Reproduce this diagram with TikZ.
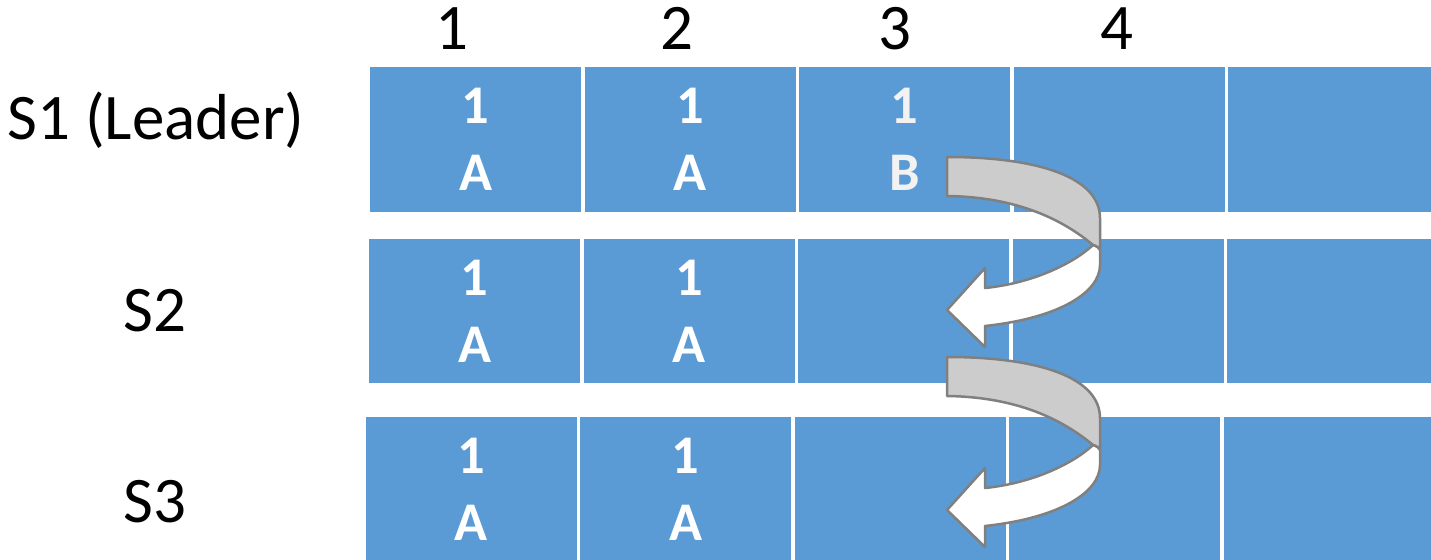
\documentclass[tikz,border=0pt]{standalone}
\usepackage{fontspec}
\setmainfont{Carlito}
\usepackage{tikz}
\usepackage{xcolor}

\definecolor{cellblue}{HTML}{5B9BD5}
\definecolor{backgrey}{HTML}{CCCCCC}
\definecolor{rimgrey}{HTML}{808080}
\definecolor{softwhite}{HTML}{F2F2F2}

\tikzset{
  cell/.style={rectangle, fill=cellblue, draw=white, line width=0.06cm,
    minimum width=4.29cm, minimum height=2.96cm, inner sep=0pt, outer sep=0pt,
    text=white, align=center, font=\fontsize{31}{38.1}\selectfont\bfseries},
  rowlabel/.style={anchor=base, font=\fontsize{37}{44}\selectfont},
  collabel/.style={anchor=base, font=\fontsize{37}{44}\selectfont},
  turnback/.style={fill=backgrey, draw=rimgrey, line width=0.05cm, line join=round},
  turnfront/.style={fill=white, draw=rimgrey, line width=0.05cm, line join=round}
}

\begin{document}
\begin{tikzpicture}[x=0.02cm, y=-0.02cm]
  \useasboundingbox (0,0) rectangle (1431,560);
  \clip (0,0) rectangle (1431,560);
  % column numbers
  \foreach \c/\x in {1/452, 2/677, 3/895, 4/1117}
    \node[collabel] (col\c) at (\x,50) {\c};
  % server names
  \node[rowlabel] (s1) at (156,140) {S1 (Leader)};
  \node[rowlabel] (s2) at (155,332) {S2};
  \node[rowlabel] (s3) at (155,523) {S3};
  % log cells
  \foreach \c/\txt in {1/{1\\A}, 2/{1\\A}, 3/{}, 4/{}, 5/{}}
    \node[cell] (a\c) at (368.5+214.5*\c-107.25,139.5) {\txt};
  \node[cell, text=softwhite] at (a3) {1\\B};
  \foreach \c/\txt in {1/{1\\A}, 2/{1\\A}, 3/{}, 4/{}, 5/{}}
    \node[cell] (b\c) at (367.5+214.5*\c-107.25,311) {\txt};
  \foreach \c/\txt in {1/{1\\A}, 2/{1\\A}, 3/{}, 4/{}, 5/{}}
    \node[cell] (d\c) at (364+214.5*\c-107.25,489) {\txt};
  % curved arrows (replication)
  \foreach \dy in {0,200} {
    \begin{scope}[shift={(0,\dy)}]
      \draw[turnback] (947,157) .. controls (1040,157) and (1100,178) .. (1100,218)
        -- (1100,250) .. controls (1098,247) .. (1093,245)
        .. controls (1063,220) and (1018,197) .. (947,196) -- cycle;
      \draw[turnfront] (1093,245) .. controls (1075,262) and (1035,283) .. (985,288)
        -- (985,268) -- (947,310) -- (985,347) -- (985,326)
        .. controls (1060,318) and (1100,292) .. (1100,265)
        -- (1100,250) .. controls (1098,247) .. (1093,245) -- cycle;
    \end{scope}
  }
\end{tikzpicture}
\end{document}
